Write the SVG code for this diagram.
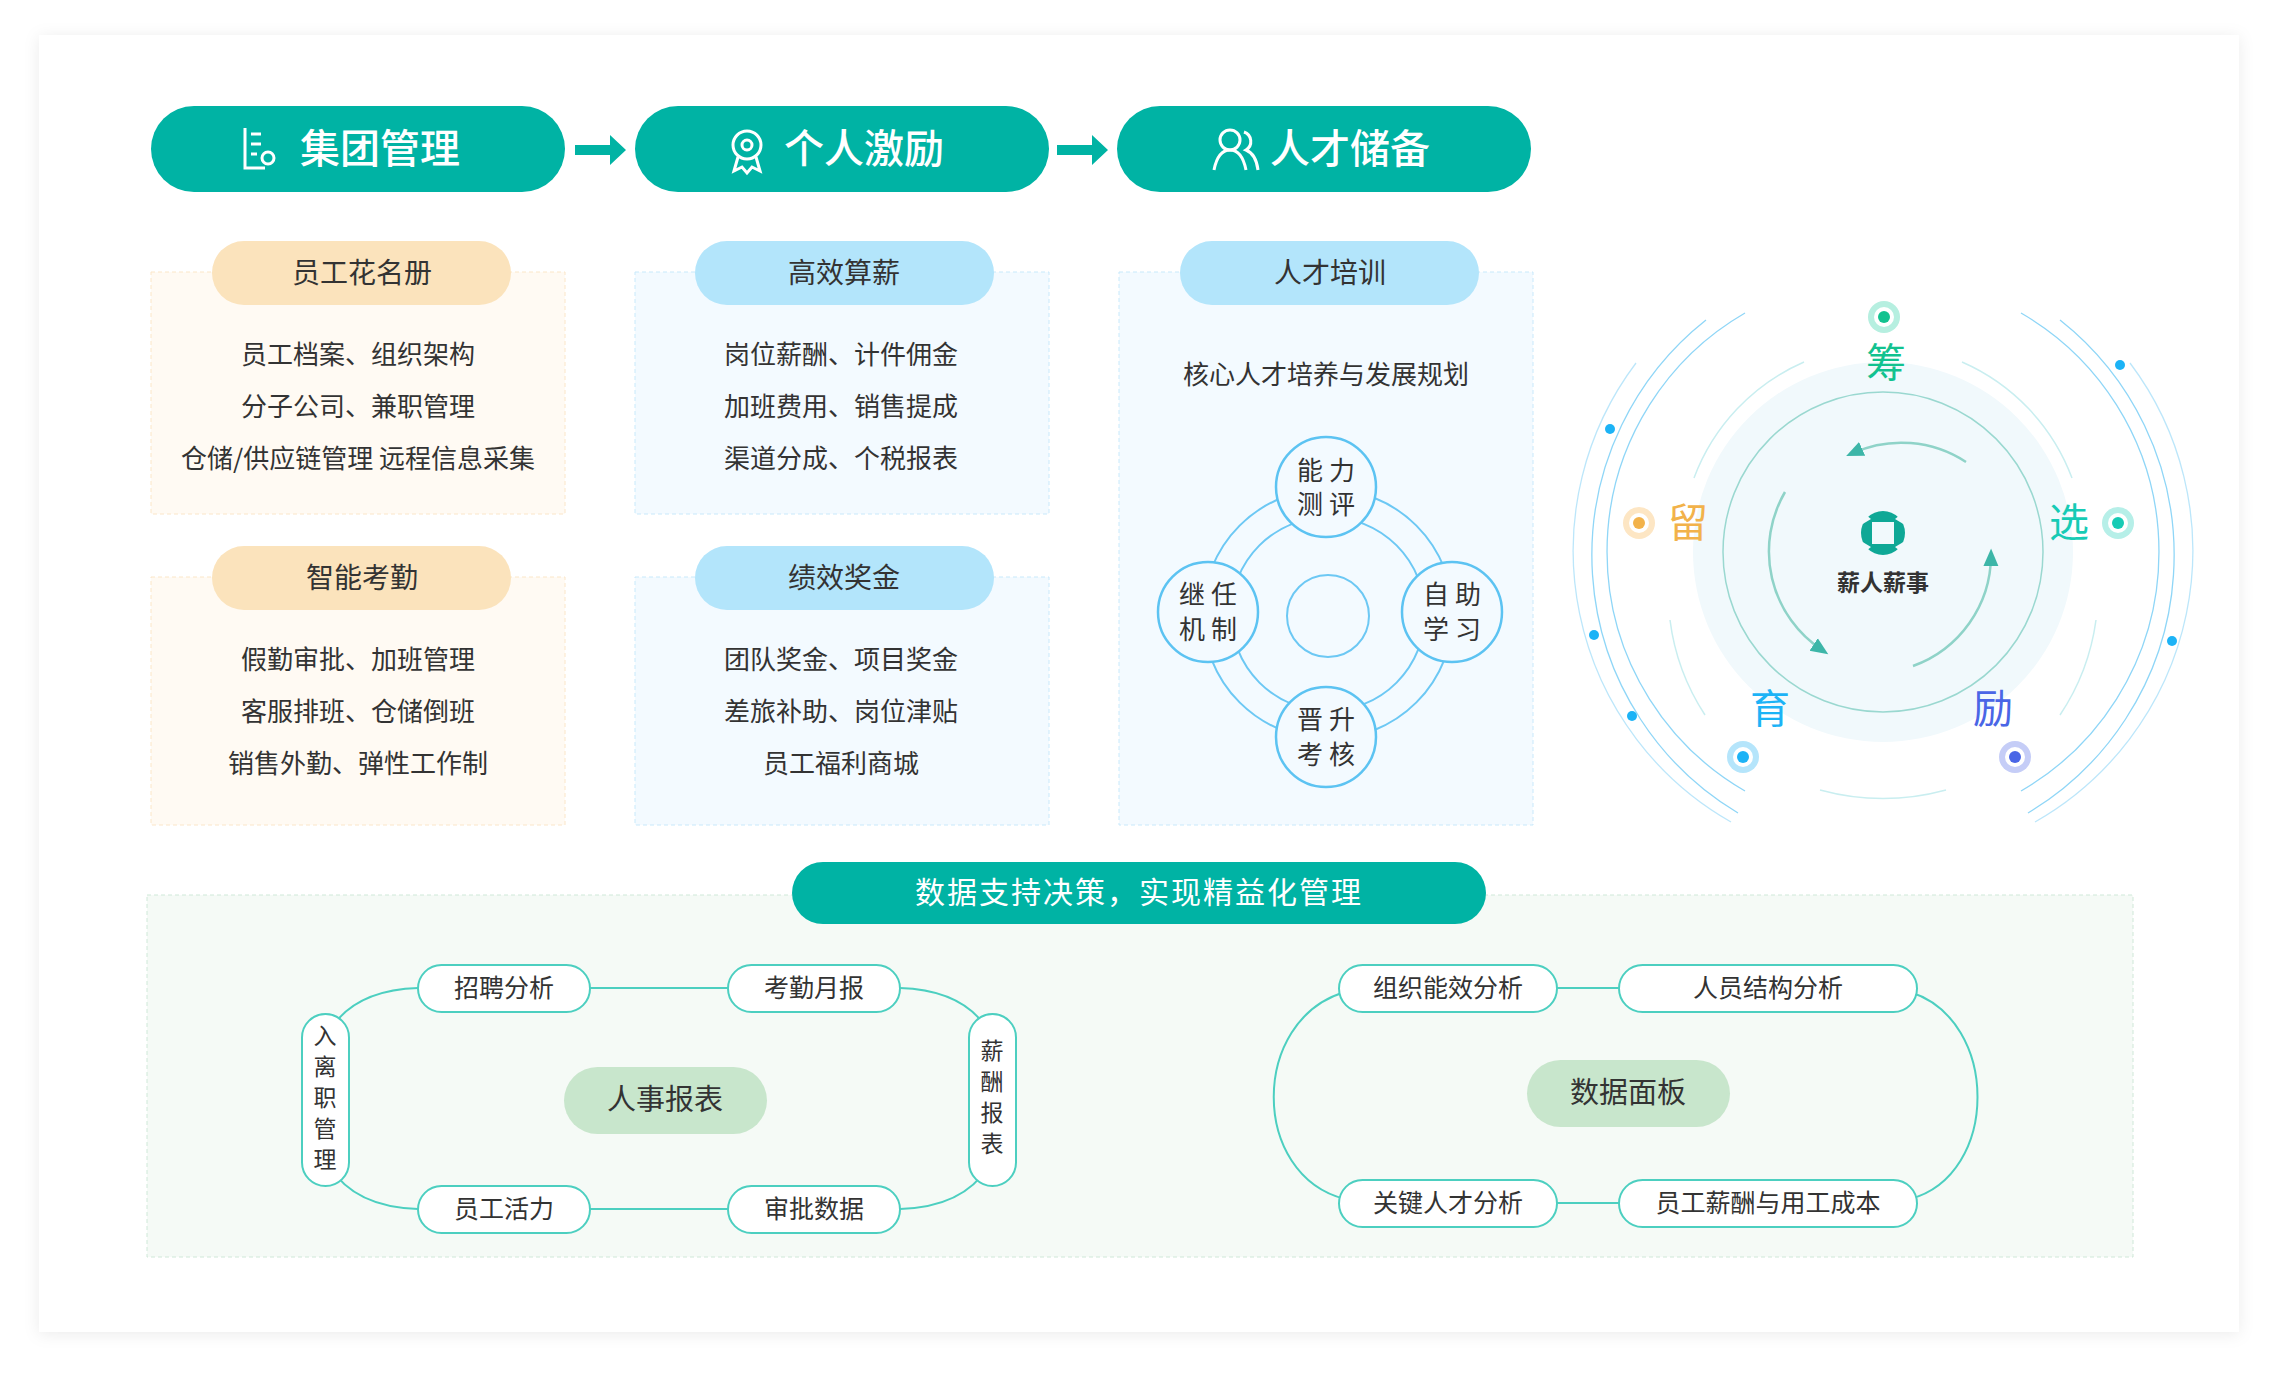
<svg xmlns="http://www.w3.org/2000/svg" width="2278" height="1376" viewBox="0 0 2278 1376">
<defs>
<style>
text{font-family:"Noto Sans CJK SC","Noto Sans",sans-serif;}
.hd{fill:#00b3a4}
.hdt{fill:#fff;font-size:40px;font-weight:500}
.t{fill:#333;font-size:26px;text-anchor:middle}
.tag{fill:#333;font-size:28px;text-anchor:middle}
.cn{fill:#333;font-size:26px;text-anchor:middle;letter-spacing:6px}
.ln{fill:none;stroke:#4ccfc0;stroke-width:2}
.pill{fill:#fff;stroke:#4ccfc0;stroke-width:2}
.sm{fill:#333;font-size:25px;text-anchor:middle}
.vt{fill:#333;font-size:23px;text-anchor:middle}
.ring{fill:none;stroke:#6cc8f4;stroke-width:2}
.node{fill:#f3faff;stroke:#5cc3f2;stroke-width:2.5}
</style>
<filter id="sh" x="-5%" y="-5%" width="110%" height="110%"><feDropShadow dx="0" dy="2" stdDeviation="8" flood-color="#000" flood-opacity="0.08"/></filter>
<marker id="ah" markerWidth="8" markerHeight="8" refX="4" refY="4" orient="auto"><path d="M0,1 L7,4 L0,7 Z" fill="#3db6a8"/></marker>
</defs>
<rect x="0" y="0" width="2278" height="1376" fill="#fff"/>
<rect x="39" y="35" width="2200" height="1297" fill="#fff" filter="url(#sh)"/>

<g id="header1"><rect class="hd" x="151" y="106" width="414" height="86" rx="43"/>
<g fill="none" stroke="#fff" stroke-width="3"><path d="M245,128 v40 h20 M251,134 h10 M251,144 h10 M251,154 h6"/><circle cx="268" cy="158" r="6"/></g>
<text class="hdt" x="300" y="163">集团管理</text></g>
<g id="header2"><rect class="hd" x="635" y="106" width="414" height="86" rx="43"/>
<g fill="none" stroke="#fff" stroke-width="3"><circle cx="747" cy="145" r="14"/><circle cx="747" cy="145" r="5"/><path d="M738,157 l-4,14 l8,-4 l5,6 l5,-6 l8,4 l-4,-14"/></g>
<text class="hdt" x="784" y="163">个人激励</text></g>
<g id="header3"><rect class="hd" x="1117" y="106" width="414" height="86" rx="43"/>
<g fill="none" stroke="#fff" stroke-width="3"><circle cx="1230" cy="140" r="10"/><path d="M1214,170 q4,-20 16,-20 q12,0 16,20"/><path d="M1244,132 a10,10 0 0 1 2,18 q10,4 12,20"/></g>
<text class="hdt" x="1270" y="163">人才储备</text></g>

<g id="arrows" fill="#00b3a4">
<path d="M575,145 h35 v-10 l16,15 l-16,15 v-10 h-35 z"/>
<path d="M1057,145 h35 v-10 l16,15 l-16,15 v-10 h-35 z"/>
</g>

<g id="card1"><rect x="151" y="272" width="414" height="242" fill="#fffaf3" stroke="#fbe6c8" stroke-dasharray="4 3"/>
<rect x="212" y="241" width="299" height="64" rx="32" fill="#fbe3bc"/><text class="tag" x="362" y="283">员工花名册</text>
<text class="t" x="358" y="364">员工档案、组织架构</text><text class="t" x="358" y="416">分子公司、兼职管理</text><text class="t" x="358" y="468">仓储/供应链管理 远程信息采集</text></g>
<g id="card2"><rect x="151" y="577" width="414" height="248" fill="#fffaf3" stroke="#fbe6c8" stroke-dasharray="4 3"/>
<rect x="212" y="546" width="299" height="64" rx="32" fill="#fbe3bc"/><text class="tag" x="362" y="588">智能考勤</text>
<text class="t" x="358" y="669">假勤审批、加班管理</text><text class="t" x="358" y="721">客服排班、仓储倒班</text><text class="t" x="358" y="773">销售外勤、弹性工作制</text></g>
<g id="card3"><rect x="635" y="272" width="414" height="242" fill="#f3faff" stroke="#c8e9fb" stroke-dasharray="4 3"/>
<rect x="695" y="241" width="299" height="64" rx="32" fill="#b3e5fb"/><text class="tag" x="844" y="283">高效算薪</text>
<text class="t" x="841" y="364">岗位薪酬、计件佣金</text><text class="t" x="841" y="416">加班费用、销售提成</text><text class="t" x="841" y="468">渠道分成、个税报表</text></g>
<g id="card4"><rect x="635" y="577" width="414" height="248" fill="#f3faff" stroke="#c8e9fb" stroke-dasharray="4 3"/>
<rect x="695" y="546" width="299" height="64" rx="32" fill="#b3e5fb"/><text class="tag" x="844" y="588">绩效奖金</text>
<text class="t" x="841" y="669">团队奖金、项目奖金</text><text class="t" x="841" y="721">差旅补助、岗位津贴</text><text class="t" x="841" y="773">员工福利商城</text></g>
<g id="card5"><rect x="1119" y="272" width="414" height="553" fill="#f3faff" stroke="#c8e9fb" stroke-dasharray="4 3"/>
<rect x="1180" y="241" width="299" height="64" rx="32" fill="#b3e5fb"/><text class="tag" x="1330" y="283">人才培训</text>
<text class="t" x="1326" y="384">核心人才培养与发展规划</text>
<circle cx="1328" cy="614" r="125" class="ring" stroke="#a6dcf7"/>
<circle cx="1328" cy="614" r="97" class="ring" stroke="#c6e9fa"/>
<circle cx="1328" cy="616" r="41" class="ring" stroke="#c6e9fa"/>
<circle class="node" cx="1326" cy="487" r="50"/><text class="cn" x="1329" y="480">能力</text><text class="cn" x="1329" y="514">测评</text>
<circle class="node" cx="1208" cy="612" r="50"/><text class="cn" x="1211" y="604">继任</text><text class="cn" x="1211" y="639">机制</text>
<circle class="node" cx="1452" cy="612" r="50"/><text class="cn" x="1455" y="604">自助</text><text class="cn" x="1455" y="639">学习</text>
<circle class="node" cx="1326" cy="737" r="50"/><text class="cn" x="1329" y="729">晋升</text><text class="cn" x="1329" y="764">考核</text></g>

<g id="wheel">
<g fill="none" stroke="#8fd6f7" stroke-width="1.3">
<path d="M1745,791 A276,276 0 0 1 1745,313"/><path d="M2021,313 A276,276 0 0 1 2021,791"/>
<path d="M1738,813 A300,300 0 0 1 1706,320"/><path d="M2060,320 A300,300 0 0 1 2028,813"/>
<path d="M1731,822 A312,312 0 0 1 1636,363" opacity="0.6"/><path d="M2130,363 A312,312 0 0 1 2035,822" opacity="0.6"/>
</g>
<g fill="none" stroke="#c9eef0" stroke-width="1.5">
<path d="M1694,478 A205,205 0 0 1 1804,362"/><path d="M1962,362 A205,205 0 0 1 2072,478"/>
<path d="M1670,620 A225,225 0 0 0 1705,715"/><path d="M2096,620 A225,225 0 0 1 2060,715"/>
<path d="M1820,790 A240,240 0 0 0 1946,790"/>
</g>
<circle cx="1883" cy="552" r="190" fill="#f1f9fc"/>
<circle cx="1883" cy="552" r="160" fill="none" stroke="#9ad8d0" stroke-width="1.5"/>
<g fill="none" stroke="#8fd3c8" stroke-width="2.5">
<path d="M1966,462 A118,118 0 0 0 1853,453" marker-end="url(#ah)"/>
<path d="M1785,492 A118,118 0 0 0 1822,650" marker-end="url(#ah)"/>
<path d="M1913,666 A118,118 0 0 0 1991,556" marker-end="url(#ah)"/>
</g>
<g fill="#0fa896"><circle cx="1883" cy="533" r="22"/></g>
<rect x="1872" y="522" width="22" height="22" fill="#f1f9fc"/>
<g fill="#f1f9fc"><path d="M1861,511 l10,8 l-10,6z M1905,511 l-10,8 l10,6z M1861,555 l10,-8 l-10,-6z M1905,555 l-10,-8 l10,-6z"/></g>
<text x="1883" y="591" style="font-size:23px;font-weight:700;fill:#333;text-anchor:middle">薪人薪事</text>
<g fill="#1cb3f6"><circle cx="1610" cy="429" r="5"/><circle cx="1594" cy="635" r="5"/><circle cx="1632" cy="716" r="5"/><circle cx="2120" cy="365" r="5"/><circle cx="2172" cy="641" r="5"/></g>
<circle cx="1884" cy="317" r="16" fill="#b6efe0"/><circle cx="1884" cy="317" r="10" fill="#fff"/><circle cx="1884" cy="317" r="6" fill="#12c28f"/>
<circle cx="1639" cy="523" r="16" fill="#fde6c4"/><circle cx="1639" cy="523" r="10" fill="#fff"/><circle cx="1639" cy="523" r="6" fill="#f2b24a"/>
<circle cx="2118" cy="523" r="16" fill="#b6efe8"/><circle cx="2118" cy="523" r="10" fill="#fff"/><circle cx="2118" cy="523" r="6" fill="#17cbb5"/>
<circle cx="1743" cy="757" r="16" fill="#b5e5fb"/><circle cx="1743" cy="757" r="10" fill="#fff"/><circle cx="1743" cy="757" r="6" fill="#1cb3f6"/>
<circle cx="2015" cy="757" r="16" fill="#c5cdf7"/><circle cx="2015" cy="757" r="10" fill="#fff"/><circle cx="2015" cy="757" r="6" fill="#4a66e6"/>
<g style="font-size:40px;text-anchor:middle">
<text x="1886" y="377" fill="#12c28f">筹</text>
<text x="1688" y="537" fill="#f2b24a">留</text>
<text x="2069" y="537" fill="#17cbb5">选</text>
<text x="1770" y="723" fill="#1cb3f6">育</text>
<text x="1993" y="723" fill="#4a66e6">励</text>
</g>
</g>

<g id="bottom">
<rect x="147" y="895" width="1986" height="362" fill="#f5faf6" stroke="#cfe8d8" stroke-dasharray="4 3"/>
<rect x="792" y="862" width="694" height="62" rx="31" fill="#00b3a4"/>
<text x="1139" y="903" style="fill:#fff;font-size:30px;text-anchor:middle;letter-spacing:2px">数据支持决策，实现精益化管理</text>
</g>

<g id="connectors">
<path class="ln" d="M590,988 H729 M590,1209 H729"/>
<path class="ln" d="M418,988 Q355,990 330,1030 M418,1209 Q355,1207 330,1167"/>
<path class="ln" d="M900,988 Q963,990 988,1030 M900,1209 Q963,1207 988,1167"/>
<path class="ln" d="M1557,988 H1619 M1557,1203 H1619"/>
<path class="ln" d="M1345,992 C1250,1020 1250,1175 1345,1199"/>
<path class="ln" d="M1910,992 C2000,1020 2000,1175 1910,1199"/>
</g>

<g id="n-zhaopin"><rect class="pill" x="418" y="965" width="172" height="47" rx="23.5"/><text class="sm" x="504" y="997">招聘分析</text></g>
<g id="n-kaoqin"><rect class="pill" x="728" y="965" width="172" height="47" rx="23.5"/><text class="sm" x="814" y="997">考勤月报</text></g>
<g id="n-huoli"><rect class="pill" x="418" y="1186" width="172" height="47" rx="23.5"/><text class="sm" x="504" y="1218">员工活力</text></g>
<g id="n-shenpi"><rect class="pill" x="728" y="1186" width="172" height="47" rx="23.5"/><text class="sm" x="814" y="1218">审批数据</text></g>
<g id="n-ruli"><rect class="pill" x="302" y="1014" width="47" height="172" rx="23.5"/>
<text class="vt" x="325" y="1044">入</text><text class="vt" x="325" y="1075">离</text><text class="vt" x="325" y="1106">职</text><text class="vt" x="325" y="1137">管</text><text class="vt" x="325" y="1168">理</text></g>
<g id="n-xinchou"><rect class="pill" x="969" y="1014" width="47" height="172" rx="23.5"/>
<text class="vt" x="992" y="1059">薪</text><text class="vt" x="992" y="1090">酬</text><text class="vt" x="992" y="1121">报</text><text class="vt" x="992" y="1152">表</text></g>
<g id="n-renshi"><rect x="564" y="1067" width="203" height="67" rx="33.5" fill="#c8e6cc"/><text x="665" y="1110" style="font-size:29px;fill:#333;text-anchor:middle">人事报表</text></g>

<g id="n-zuzhi"><rect class="pill" x="1339" y="965" width="218" height="47" rx="23.5"/><text class="sm" x="1448" y="997">组织能效分析</text></g>
<g id="n-renyuan"><rect class="pill" x="1619" y="965" width="298" height="47" rx="23.5"/><text class="sm" x="1768" y="997">人员结构分析</text></g>
<g id="n-guanjian"><rect class="pill" x="1339" y="1180" width="218" height="47" rx="23.5"/><text class="sm" x="1448" y="1212">关键人才分析</text></g>
<g id="n-xinchoucb"><rect class="pill" x="1619" y="1180" width="298" height="47" rx="23.5"/><text class="sm" x="1768" y="1212">员工薪酬与用工成本</text></g>
<g id="n-mianban"><rect x="1527" y="1060" width="203" height="67" rx="33.5" fill="#c8e6cc"/><text x="1628" y="1103" style="font-size:29px;fill:#333;text-anchor:middle">数据面板</text></g>
</svg>
